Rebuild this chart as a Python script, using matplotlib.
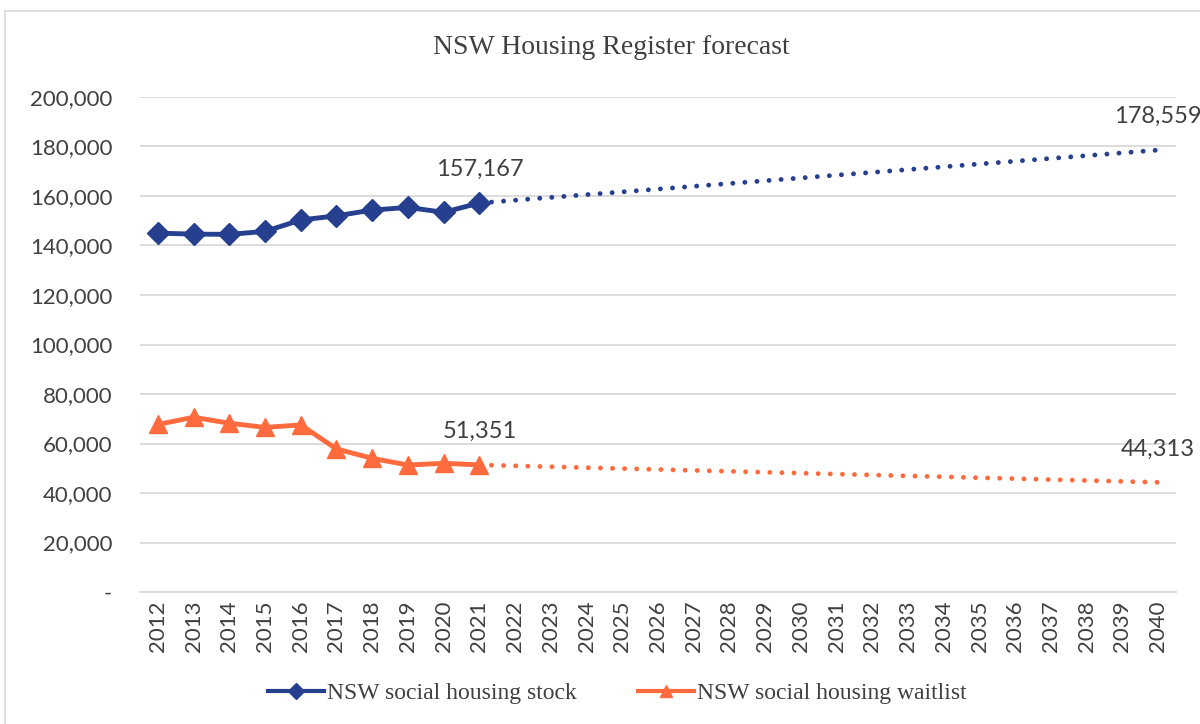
import matplotlib
matplotlib.use("Agg")
import matplotlib.pyplot as plt
from matplotlib.patches import Rectangle
from matplotlib.lines import Line2D
from matplotlib.ticker import FuncFormatter

# ---- data ----
years = ["2012", "2013", "2014", "2015", "2016", "2017", "2018", "2019", "2020", "2021",
         "2022", "2023", "2024", "2025", "2026", "2027", "2028", "2029", "2030", "2031",
         "2032", "2033", "2034", "2035", "2036", "2037", "2038", "2039", "2040"]
hist_years = ["2012", "2013", "2014", "2015", "2016", "2017", "2018", "2019", "2020", "2021"]
stock = [145000, 144600, 144500, 145700, 150300, 152000, 154300, 155400, 153400, 157167]
waitlist = [67700, 70600, 68200, 66500, 67500, 57800, 54000, 51300, 52000, 51351]
forecast_years = ["2021", "2040"]
stock_forecast = [157167, 178559]
waitlist_forecast = [51351, 44313]
series_names = ["NSW social housing stock", "NSW social housing waitlist"]

blue = "#263F8E"
orange = "#FF6B3D"
sans = ["Lato", "DejaVu Sans"]

fig = plt.figure(figsize=(12, 7.24), dpi=100)
fig.patches.append(Rectangle((5 / 1200, -0.05), 1.2, 1 - 11 / 724 + 0.05, transform=fig.transFigure,
                             fill=False, edgecolor="#D9D9D9", linewidth=1.2))

ax = fig.add_axes([140 / 1200, 1 - 592 / 724, 1036 / 1200, 495 / 724])
idx = {y: i for i, y in enumerate(years)}
hx = [idx[y] for y in hist_years]
fx = [idx[y] for y in forecast_years]

dot = (0, (0.01, 2.48))
ax.plot(fx, stock_forecast, color=blue, lw=3.5, linestyle=dot, dash_capstyle="round")
ax.plot(fx, waitlist_forecast, color=orange, lw=3.5, linestyle=dot, dash_capstyle="round")
ax.plot(hx, stock, color=blue, lw=3.5, marker="D", markersize=11)
ax.plot(hx, waitlist, color=orange, lw=3.5, marker="^", markersize=12.5)

lab_font = dict(fontsize=17, color="#404040", family=sans, ha="center", va="center")
for xs, ys in ((fx, stock_forecast), (fx, waitlist_forecast)):
    for x, y in zip(xs, ys):
        ax.annotate(f"{y:,}", (x, y), xytext=(0, 24), textcoords="offset points",
                    annotation_clip=False, **lab_font)

ax.set_xlim(-0.5, len(years) - 0.5)
ax.set_ylim(0, 200000)
ax.set_yticks(range(0, 200001, 20000))
ax.yaxis.set_major_formatter(FuncFormatter(lambda v, p: "-" if v == 0 else f"{int(v):,}"))
ax.set_xticks(range(len(years)))
ax.set_xticklabels(years, rotation=90)
ax.grid(axis="y", color="#D9D9D9", linewidth=1.3)
ax.set_axisbelow(True)
for s in ("top", "right", "left"):
    ax.spines[s].set_visible(False)
ax.spines["bottom"].set_color("#D9D9D9")
ax.spines["bottom"].set_linewidth(1.3)
ax.tick_params(axis="both", length=0, labelsize=16, labelcolor="#404040")
ax.tick_params(axis="y", pad=20)
ax.tick_params(axis="x", pad=6)
for t in ax.get_xticklabels() + ax.get_yticklabels():
    t.set_family(sans)

fig.text(611 / 1200, 1 - 48 / 724, "NSW Housing Register forecast", ha="center", va="center",
         fontsize=20, family="Liberation Serif", color="#404040")

h1 = Line2D([], [], color=blue, lw=3, marker="D", markersize=8)
h2 = Line2D([], [], color=orange, lw=3, marker="^", markersize=9)
fig.legend(handles=[h1, h2], labels=series_names, loc="center",
           bbox_to_anchor=(617 / 1200, 1 - 693 / 724), ncol=2,
           frameon=False, prop={"family": "Liberation Serif", "size": 17}, handlelength=2.4,
           handletextpad=0.1, columnspacing=2.6, labelcolor="#404040")

fig.savefig("out.png", dpi=100)
